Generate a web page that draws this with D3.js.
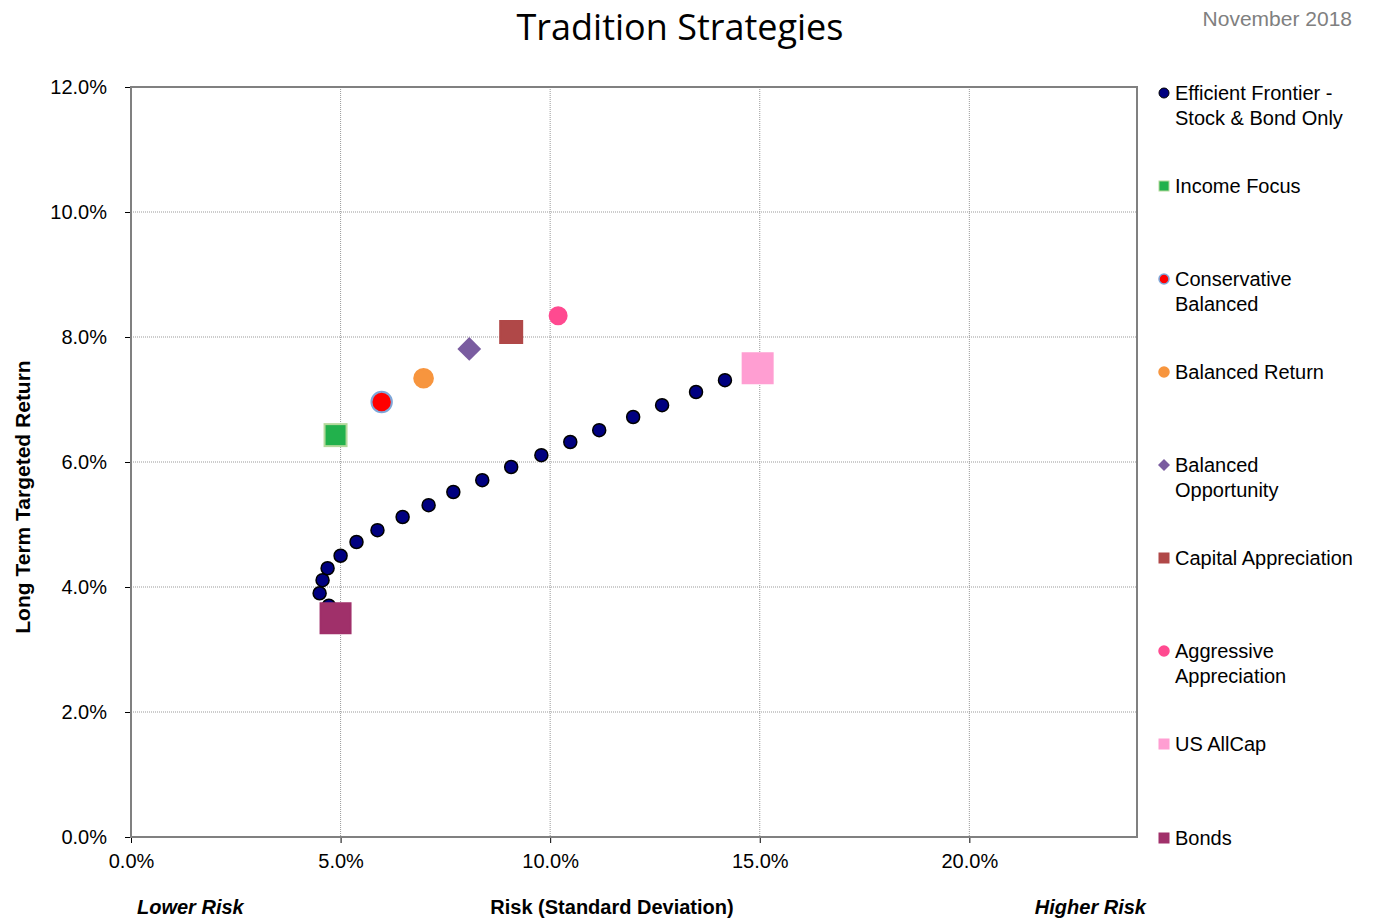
<!DOCTYPE html>
<html><head><meta charset="utf-8">
<script src="https://cdn.jsdelivr.net/npm/d3@7"></script>
<style>body{margin:0;background:#fff;font-family:Arial,"Liberation Sans",sans-serif}</style>
</head><body><svg id="c" width="1378" height="918"></svg>
<script>
var frontierRisk = [4.5,4.57,4.69,4.72,5.0,5.38,5.88,6.48,7.1,7.69,8.38,9.07,9.79,10.48,11.17,11.98,12.67,13.48,14.17];
var frontierRet  = [3.9,4.11,4.3,3.7,4.5,4.72,4.91,5.12,5.31,5.52,5.71,5.92,6.11,6.32,6.51,6.72,6.91,7.12,7.31];
var strategyNames = ["Income Focus","Conservative Balanced","Balanced Return","Balanced Opportunity","Capital Appreciation","Aggressive Appreciation","US AllCap","Bonds"];
var strategyRisk = [4.88,5.98,6.98,8.07,9.07,10.19,14.95,4.88];
var strategyRet  = [6.43,6.96,7.34,7.81,8.08,8.34,7.5,3.5];
var legendLabels = [["Efficient Frontier -","Stock & Bond Only"],["Income Focus"],["Conservative","Balanced"],["Balanced Return"],["Balanced","Opportunity"],["Capital Appreciation"],["Aggressive","Appreciation"],["US AllCap"],["Bonds"]];

var styles = [
  {shape:"square",fill:"#22b14c",stroke:"#b5d99c",size:22},
  {shape:"circle",fill:"#ff0000",stroke:"#7fa7d9",size:12},
  {shape:"circle",fill:"#f7953e",stroke:"#f7953e",size:11},
  {shape:"diamond",fill:"#7a5ca0",stroke:"#7a5ca0",size:17},
  {shape:"square",fill:"#b04848",stroke:"#b04848",size:22},
  {shape:"circle",fill:"#ff4a90",stroke:"#ff4a90",size:10},
  {shape:"square",fill:"#ff9ed2",stroke:"#ff9ed2",size:30},
  {shape:"square",fill:"#a0306a",stroke:"#a0306a",size:30}
];

var svg = d3.select("#c");
var x = d3.scaleLinear().domain([0,24]).range([131,1137]);
var y = d3.scaleLinear().domain([0,12]).range([837,87]);

svg.append("g").attr("transform","translate(0,837)")
  .call(d3.axisBottom(x).tickValues([0,5,10,15,20]).tickSize(6).tickFormat(function(d){return d.toFixed(1)+"%";}))
  .call(function(g){g.selectAll("text").attr("font-size",20).attr("dy","1.1em").attr("fill","#000");g.select(".domain").remove();});
svg.append("g").attr("transform","translate(131,0)")
  .call(d3.axisLeft(y).tickValues([0,2,4,6,8,10,12]).tickSize(6).tickPadding(18).tickFormat(function(d){return d.toFixed(1)+"%";}))
  .call(function(g){g.selectAll("text").attr("font-size",20).attr("fill","#000");g.select(".domain").remove();});

var grid = svg.append("g").attr("stroke","#999").attr("stroke-dasharray","1,1").attr("stroke-width",1);
[5,10,15,20].forEach(function(v){grid.append("line").attr("x1",x(v)).attr("x2",x(v)).attr("y1",87).attr("y2",837);});
[2,4,6,8,10].forEach(function(v){grid.append("line").attr("y1",y(v)).attr("y2",y(v)).attr("x1",131).attr("x2",1137);});
svg.append("rect").attr("x",131).attr("y",87).attr("width",1006).attr("height",750).attr("fill","none").attr("stroke","#808080").attr("stroke-width",2);

function diamond(sel, cx, cy, h, fill){
  sel.append("path").attr("d","M"+cx+","+(cy-h)+"L"+(cx+h)+","+cy+"L"+cx+","+(cy+h)+"L"+(cx-h)+","+cy+"Z").attr("fill",fill);
}
function shape(sel, st, cx, cy, s){
  if(st.shape=="circle") sel.append("circle").attr("cx",cx).attr("cy",cy).attr("r",s/2*1.7).attr("fill",st.fill).attr("stroke",st.stroke).attr("stroke-width",2);
  else if(st.shape=="square") sel.append("rect").attr("x",cx-s/2).attr("y",cy-s/2).attr("width",s).attr("height",s).attr("fill",st.fill).attr("stroke",st.stroke).attr("stroke-width",2);
  else diamond(sel, cx, cy, s*0.7, st.fill);
}

var pts = svg.append("g");
frontierRisk.forEach(function(r,i){
  pts.append("circle").attr("cx",x(r)).attr("cy",y(frontierRet[i])).attr("r",6.5).attr("fill","#000080").attr("stroke","#000").attr("stroke-width",1.5);
});
strategyNames.forEach(function(n,i){ shape(pts, styles[i], x(strategyRisk[i]), y(strategyRet[i]), styles[i].size); });

var leg = svg.append("g");
var legY = [93,186,279,372,465,558,651,744,838];
legendLabels.forEach(function(lines,i){
  var cy = legY[i];
  if(i==0) leg.append("circle").attr("cx",1164).attr("cy",cy).attr("r",5).attr("fill","#000080").attr("stroke","#000");
  else { var st=styles[i-1];
    if(st.shape=="circle") leg.append("circle").attr("cx",1164).attr("cy",cy).attr("r",5).attr("fill",st.fill).attr("stroke",st.stroke).attr("stroke-width",1.5);
    else if(st.shape=="square") leg.append("rect").attr("x",1159).attr("y",cy-5).attr("width",10).attr("height",10).attr("fill",st.fill).attr("stroke",st.stroke);
    else diamond(leg, 1164, cy, 6, st.fill);
  }
  lines.forEach(function(t,j){
    leg.append("text").attr("x",1175).attr("y",cy+7+j*25).attr("font-size",20).attr("fill","#000").text(t);
  });
});

svg.append("text").attr("x",680).attr("y",40).attr("text-anchor","middle").attr("font-size",36).attr("font-family","'Open Sans',sans-serif").text("Tradition Strategies");
svg.append("text").attr("x",1352).attr("y",26).attr("text-anchor","end").attr("font-size",21).attr("fill","#808080").text("November 2018");
svg.append("text").attr("transform","translate(30,497) rotate(-90)").attr("text-anchor","middle").attr("font-size",21).attr("font-weight","bold").text("Long Term Targeted Return");
svg.append("text").attr("x",612).attr("y",914).attr("text-anchor","middle").attr("font-size",20).attr("font-weight","bold").text("Risk (Standard Deviation)");
svg.append("text").attr("x",137).attr("y",914).attr("font-size",20).attr("font-weight","bold").attr("font-style","italic").text("Lower Risk");
svg.append("text").attr("x",1146).attr("y",914).attr("text-anchor","end").attr("font-size",20).attr("font-weight","bold").attr("font-style","italic").text("Higher Risk");
</script></body></html>
